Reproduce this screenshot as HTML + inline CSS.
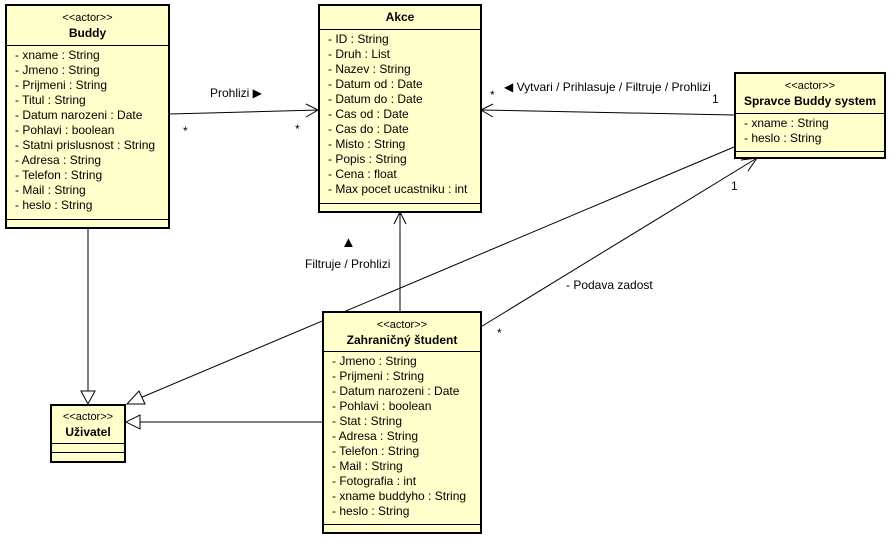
<!DOCTYPE html>
<html><head><meta charset="utf-8"><style>
body{margin:0;width:890px;height:539px;background:#fff;position:relative;font-family:"Liberation Sans",sans-serif;font-size:12px;color:#000;overflow:hidden}
.b{position:absolute;background:#ffffcc;border:2px solid #000;box-sizing:border-box}
.h{border-bottom:1px solid #000;text-align:center;line-height:15px;padding-top:5px;box-sizing:border-box}
.h .s{font-size:11px}
.h b{font-weight:bold}
.a{padding:2px 0 0 8px;line-height:15px;border-bottom:1px solid #000;box-sizing:border-box;white-space:nowrap}
.t{position:absolute;white-space:nowrap;line-height:14px}
svg{position:absolute;left:0;top:0}
</style></head><body>
<svg width="890" height="539">
<g stroke="#000" stroke-width="1" fill="none">
<line x1="170" y1="114" x2="318" y2="110"/><polyline points="306,104 318,110 306,117"/>
<line x1="734" y1="115" x2="481" y2="110"/><polyline points="493,104 481,110 493,117"/>
<line x1="400" y1="311" x2="400" y2="212"/><polyline points="394,224 400,212 406,224"/>
<line x1="479" y1="328" x2="757" y2="158"/><polyline points="741,160 757,158 748,171"/>
<line x1="734" y1="147" x2="140" y2="398"/><polygon fill="#fff" points="127,404 139,391 145,404"/>
<line x1="322" y1="422" x2="140" y2="422"/><polygon fill="#fff" points="126,422 140,415 140,429"/>
<line x1="88" y1="228" x2="88" y2="391"/><polygon fill="#fff" points="88,404 81,391 95,391"/>
</g></svg>
<div class="b" style="left:5px;top:4px;width:165px;height:225px">
<div class="h" style="height:40px"><div class="s">&lt;&lt;actor&gt;&gt;</div><b>Buddy</b></div>
<div class="a" style="height:174px">- xname : String<br>- Jmeno : String<br>- Prijmeni : String<br>- Titul : String<br>- Datum narozeni : Date<br>- Pohlavi : boolean<br>- Statni prislusnost : String<br>- Adresa : String<br>- Telefon : String<br>- Mail : String<br>- heslo : String</div></div>
<div class="b" style="left:318px;top:4px;width:164px;height:209px">
<div class="h" style="height:24px;padding-top:4px"><b>Akce</b></div>
<div class="a" style="height:174px">- ID : String<br>- Druh : List<br>- Nazev : String<br>- Datum od : Date<br>- Datum do : Date<br>- Cas od : Date<br>- Cas do : Date<br>- Misto : String<br>- Popis : String<br>- Cena : float<br>- Max pocet ucastniku : int</div></div>
<div class="b" style="left:734px;top:72px;width:152px;height:87px">
<div class="h" style="height:40px"><div class="s">&lt;&lt;actor&gt;&gt;</div><b>Spravce Buddy system</b></div>
<div class="a" style="height:38px">- xname : String<br>- heslo : String</div></div>
<div class="b" style="left:322px;top:311px;width:160px;height:223px">
<div class="h" style="height:39px"><div class="s">&lt;&lt;actor&gt;&gt;</div><b>Zahraničný študent</b></div>
<div class="a" style="height:173px">- Jmeno : String<br>- Prijmeni : String<br>- Datum narozeni : Date<br>- Pohlavi : boolean<br>- Stat : String<br>- Adresa : String<br>- Telefon : String<br>- Mail : String<br>- Fotografia : int<br>- xname buddyho : String<br>- heslo : String</div></div>
<div class="b" style="left:50px;top:404px;width:76px;height:59px">
<div class="h" style="height:38px;padding-top:4px"><div class="s">&lt;&lt;actor&gt;&gt;</div><b>Uživatel</b></div>
<div style="height:8px;border-bottom:1px solid #000"></div></div>
<div class="t" style="left:210px;top:86px">Prohlizi ▶</div>
<div class="t" style="left:183px;top:124px">*</div>
<div class="t" style="left:295px;top:122px">*</div>
<div class="t" style="left:490px;top:88px">*</div>
<div class="t" style="left:504px;top:80px">◀ Vytvari / Prihlasuje / Filtruje / Prohlizi</div>
<div class="t" style="left:712px;top:92px">1</div>
<div class="t" style="left:341px;top:236px;font-size:15px">▲</div>
<div class="t" style="left:305px;top:257px">Filtruje / Prohlizi</div>
<div class="t" style="left:566px;top:278px">- Podava zadost</div>
<div class="t" style="left:497px;top:326px">*</div>
<div class="t" style="left:731px;top:179px">1</div>
</body></html>
